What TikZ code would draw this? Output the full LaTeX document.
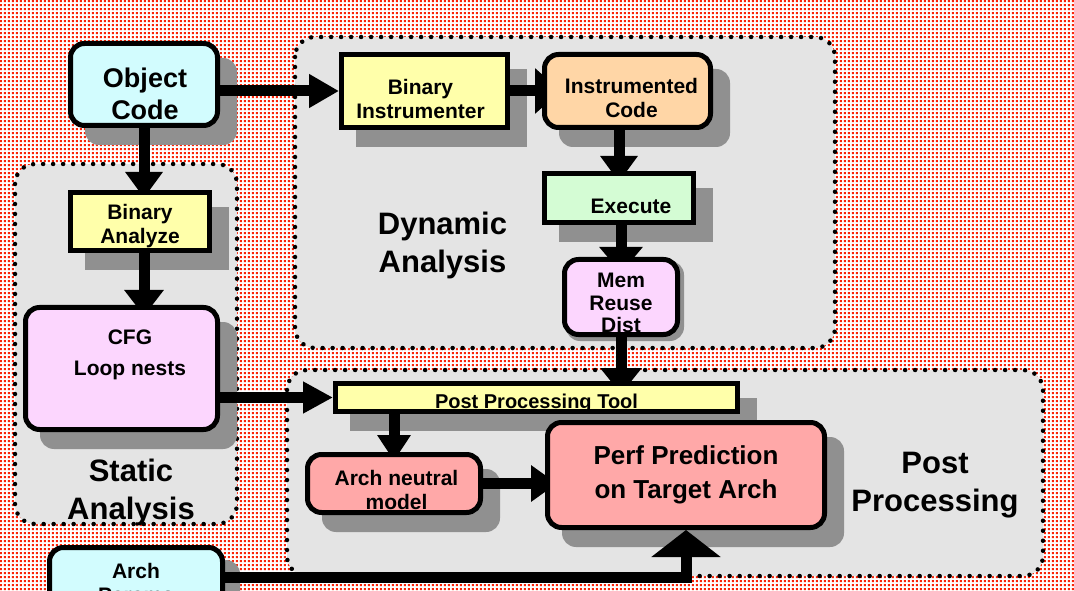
\documentclass[tikz,border=0pt]{standalone}
\usepackage{fontspec}
\setmainfont{Liberation Sans}
\usetikzlibrary{arrows.meta,patterns}
\pgfdeclarepatternformonly{reddots}{\pgfqpoint{0pt}{0pt}}{\pgfqpoint{4.2pt}{4.2pt}}{\pgfqpoint{4.2pt}{4.2pt}}{%
  \pgfpathrectangle{\pgfqpoint{0.9pt}{0.9pt}}{\pgfqpoint{2.4pt}{2.4pt}}\pgfusepath{fill}}
\pgfdeclarelayer{bg}
\pgfdeclarelayer{shade}
\pgfdeclarelayer{arrowlayer}
\pgfsetlayers{bg,shade,arrowlayer,main}
\tikzset{
  box/.style={draw=black, line width=5pt, inner sep=0pt},
  squarebox/.style={box},
  roundbox/.style={box, rounded corners=14pt},
  boxtxt/.style={font=\fontsize{21}{24}\selectfont\bfseries, align=center, inner sep=0pt},
  memtxt/.style={font=\fontsize{21}{22.5}\selectfont\bfseries, align=center, inner sep=0pt},
  bigtxt/.style={font=\fontsize{27}{32}\selectfont\bfseries, align=center, inner sep=0pt},
  perftxt/.style={font=\fontsize{26}{34}\selectfont\bfseries, align=center, inner sep=0pt},
  grouptxt/.style={font=\fontsize{31}{38}\selectfont\bfseries, align=center, inner sep=0pt},
  group/.style={fill=groupgray, draw=black, line width=4.5pt, dash pattern=on 0pt off 10pt,
    line cap=round, rounded corners=20pt},
  bigarrow/.style={line width=11pt, -{Triangle[length=26pt,width=36pt]}},
}
\begin{document}
\begin{tikzpicture}[x=1pt,y=1pt]
\definecolor{dotred}{RGB}{250,36,8}
\definecolor{groupgray}{RGB}{228,228,228}
\definecolor{shadowgray}{RGB}{144,144,144}
\definecolor{cyanfill}{RGB}{210,252,254}
\definecolor{yellowfill}{RGB}{255,255,170}
\definecolor{peachfill}{RGB}{255,214,166}
\definecolor{greenfill}{RGB}{212,252,212}
\definecolor{pinkfill}{RGB}{252,214,254}
\definecolor{salmonfill}{RGB}{255,168,168}
\useasboundingbox (0,0) rectangle (1074,590);

\begin{pgfonlayer}{bg}
\fill[white] (0,0) rectangle (1074,590);
\fill[pattern=reddots, pattern color=dotred] (0,0) rectangle (1074,590);
\path[group] (295,553) rectangle (835,242);
\path[group] (15,426) rectangle (237,66);
\path[group] (287,220) rectangle (1043,14);
\end{pgfonlayer}

\node[grouptxt] (dyntitle) at (442.5,345) {Dynamic\\Analysis};
\node[grouptxt] (stattitle) at (131,97.5) {Static\\Analysis};
\node[grouptxt] (posttitle) at (935,105) {Post\\Processing};

\node[roundbox, fill=cyanfill, minimum width=147pt, minimum height=82pt,
  label={[bigtxt, xshift=1pt, yshift=-9pt]center:{Object\\Code}}] (oc) at (144,505.5) {};
\node[squarebox, fill=yellowfill, minimum width=166pt, minimum height=73pt,
  label={[boxtxt, xshift=-4pt, yshift=-7.5pt]center:{Binary\\Instrumenter}}] (binstr) at (424.5,499) {};
\node[roundbox, fill=peachfill, minimum width=166pt, minimum height=73pt,
  label={[boxtxt, xshift=4pt, yshift=-6.5pt]center:{Instrumented\\Code}}] (instr) at (627.5,499) {};
\node[squarebox, fill=greenfill, minimum width=149pt, minimum height=49pt,
  label={[boxtxt, xshift=12pt, yshift=-8pt]center:{Execute}}] (exec) at (619,392) {};
\node[roundbox, fill=pinkfill, minimum width=113pt, minimum height=75pt,
  label={[memtxt, yshift=-6pt]center:{Mem\\Reuse\\Dist}}] (mem) at (621,293) {};
\node[squarebox, fill=yellowfill, minimum width=139pt, minimum height=58pt,
  label={[boxtxt, yshift=-5pt]center:{Binary\\Analyze}}] (banal) at (140,368.5) {};
\node[roundbox, fill=pinkfill, minimum width=192pt, minimum height=122pt,
  label={[boxtxt, font=\fontsize{21}{31}\selectfont\bfseries, xshift=8.5pt, yshift=14pt]center:{CFG\\Loop nests}}] (cfg) at (121.5,221.5) {};
\node[squarebox, fill=yellowfill, minimum width=402pt, minimum height=28pt,
  label={[boxtxt, font=\fontsize{20}{24}\selectfont\bfseries, yshift=-6pt]center:{Post Processing Tool}}] (ppt) at (536.5,192.5) {};
\node[roundbox, fill=salmonfill, minimum width=173pt, minimum height=58pt,
  label={[boxtxt, xshift=2.5pt, yshift=-6pt]center:{Arch neutral\\model}}] (anm) at (394,106.5) {};
\node[roundbox, fill=salmonfill, minimum width=277pt, minimum height=105pt,
  label={[perftxt, yshift=0pt]center:{Perf Prediction\\on Target Arch}}] (perf) at (686,115) {};
\node[roundbox, fill=cyanfill, minimum width=173pt, minimum height=75pt,
  label={[boxtxt, yshift=2.5pt]center:{Arch\\Params}}] (ap) at (136,5) {};
\coordinate (apbend) at (686,13);

\begin{pgfonlayer}{shade}
\foreach \nm/\rc/\off in {oc/14pt/17, binstr/0pt/17, instr/14pt/17, exec/0pt/17, mem/14pt/4,
    banal/0pt/17, cfg/14pt/17, ppt/0pt/17, anm/14pt/17, perf/14pt/17, ap/14pt/15}
  \fill[shadowgray, rounded corners=\rc] ([shift={(\off,-\off)}]\nm.north west) rectangle ([shift={(\off,-\off)}]\nm.south east);
\end{pgfonlayer}

\begin{pgfonlayer}{arrowlayer}
\draw[bigarrow, -{Triangle[length=30pt,width=32pt]}] (oc.east |- binstr.west) -- (binstr.west);
\draw[bigarrow, -{Triangle[length=26pt,width=44pt]}, shorten >=-19pt] (binstr.east) -- (instr.west);
\draw[bigarrow, shorten >=-11pt] (instr.south -| exec.north) -- (exec.north);
\draw[bigarrow, -{Triangle[length=26pt,width=42pt]}, shorten >=-16pt] (exec.south -| mem.north) -- (mem.north);
\draw[bigarrow, -{Triangle[length=26pt,width=40pt]}, shorten >=-13pt] (mem.south) -- (mem.south |- ppt.north);
\draw[bigarrow, shorten >=-8pt] (oc.south) -- (oc.south |- banal.north);
\draw[bigarrow, -{Triangle[length=26pt,width=38pt]}, shorten >=-11pt] (oc.south |- banal.south) -- (oc.south |- cfg.north);
\draw[bigarrow, -{Triangle[length=30pt,width=30pt]}] (cfg.east |- ppt.west) -- (ppt.west);
\draw[bigarrow, -{Triangle[length=26pt,width=32pt]}, shorten >=-9pt] (ppt.south -| anm.north) -- (anm.north);
\draw[bigarrow, -{Triangle[length=26pt,width=35pt]}, shorten >=-12pt] (anm.east) -- (anm.east -| perf.west);
\draw[bigarrow, -{Triangle[length=27pt,width=68pt]}] (ap.east |- apbend) -- (apbend) -- (perf.south);
\end{pgfonlayer}
\end{tikzpicture}
\end{document}
